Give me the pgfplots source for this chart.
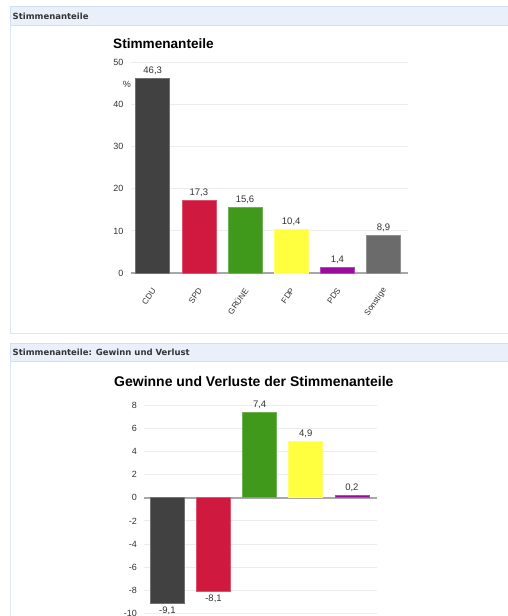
\documentclass[border=0pt]{standalone}
\usepackage{pgfplots}
\pgfplotsset{compat=1.18}
\usepackage{fontspec}
\setmainfont{Liberation Sans}
\newfontfamily\hdrfont{DejaVu Sans}
\definecolor{cdu}{HTML}{414141}
\definecolor{spd}{HTML}{D0193F}
\definecolor{gruene}{HTML}{40991A}
\definecolor{fdp}{HTML}{FFFF40}
\definecolor{pds}{HTML}{9A0C9E}
\definecolor{sonst}{HTML}{6B6B6B}
\definecolor{hdrbg}{HTML}{EAF0FA}
\definecolor{hdrline}{HTML}{D3E0F3}
\definecolor{bodyline}{HTML}{DCE6F5}
\definecolor{hdrtext}{HTML}{333333}
\definecolor{tickc}{HTML}{333333}
\definecolor{gridc}{HTML}{ECECEC}
\definecolor{zeroc}{HTML}{A8A8A8}
\pgfplotsset{
  wahl/.style={
    scale only axis, ybar, bar width=34pt, clip=false,
    axis line style={draw=none},
    tick style={draw=none},
    major tick length=0pt,
    ymajorgrids, grid style={draw=gridc, line width=0.9pt},
    /pgf/number format/assume math mode=true,
    yticklabel style={font=\fontsize{9}{9}\selectfont, text=tickc, xshift=-4pt},
    xticklabel style={xshift=2pt, yshift=-15pt, rotate=55, anchor=east, font=\fontsize{8.2}{8.2}\selectfont, text=tickc, inner sep=1pt},
    xtick={0,...,5},
    nodes near coords,
    nodes near coords style={font=\fontsize{9.5}{9.5}\selectfont, text=tickc, /pgf/number format/.cd, fixed, fixed zerofill, precision=1, use comma, assume math mode=true},
    extra y ticks={0}, extra y tick labels={},
    extra y tick style={grid style={draw=zeroc, line width=1.8pt}},
  },
  b/.style={fill=#1, draw=#1!75!white, line width=0.6pt, bar shift=0pt},
}
\begin{document}
\begin{tikzpicture}[x=1pt,y=1pt]
\useasboundingbox (0,0) rectangle (508,616);
\clip (0,0) rectangle (508,616);
\fill[white] (0,0) rectangle (508,616);
% ---- panel 1 frame
\draw[draw=bodyline, line width=1pt] (10.5,591) -- (10.5,282.5) -- (515,282.5);
\draw[draw=hdrline, fill=hdrbg, line width=0.8pt] (10.5,591) rectangle (515,609.3);
\node[anchor=west, font=\hdrfont\bfseries\fontsize{8.5}{9}\selectfont, text=hdrtext, inner sep=0pt] at (12.5,600) {Stimmenanteile};
\node[anchor=base west, font=\bfseries\fontsize{13.6}{14}\selectfont, inner sep=0pt] at (113,567) {Stimmenanteile};
% ---- panel 2 frame
\draw[draw=bodyline, line width=1pt] (10.5,254.3) -- (10.5,-2);
\draw[draw=hdrline, fill=hdrbg, line width=0.8pt] (10.5,254.3) rectangle (515,272.7);
\node[anchor=west, font=\hdrfont\bfseries\fontsize{8.5}{9}\selectfont, text=hdrtext, inner sep=0pt] at (12.5,263.5) {Stimmenanteile: Gewinn und Verlust};
\node[anchor=base west, font=\bfseries\fontsize{14}{14}\selectfont, inner sep=0pt] at (114,229.3) {Gewinne und Verluste der Stimmenanteile};
% ---- chart 1
\begin{axis}[wahl, at={(131pt,343pt)}, anchor=south west,
  width=277pt, height=210.3pt,
  xmin=-0.47, xmax=5.53, ymin=0, ymax=50,
  ytick={0,10,20,30,40,50},
  xticklabels={CDU,SPD,GRÜNE,FDP,PDS,Sonstige}]
\addplot[b=cdu] coordinates {(0,46.3)};
\addplot[b=spd] coordinates {(1,17.3)};
\addplot[b=gruene] coordinates {(2,15.6)};
\addplot[b=fdp] coordinates {(3,10.4)};
\addplot[b=pds] coordinates {(4,1.4)};
\addplot[b=sonst] coordinates {(5,8.9)};
\node[anchor=east, font=\fontsize{9}{9}\selectfont, text=tickc, inner sep=0pt] at (rel axis cs:0,0.895) {\%\hspace{7pt}};
\end{axis}
% ---- chart 2
\begin{axis}[wahl, at={(144.3pt,2.4pt)}, anchor=south west,
  width=233pt, height=208.6pt,
  xmin=-0.5, xmax=4.55, ymin=-10, ymax=8,
  ytick={-10,-8,-6,-4,-2,0,2,4,6,8},
  xtick={0,...,4},
  xticklabels={}]
\addplot[b=cdu] coordinates {(0,-9.1)};
\addplot[b=spd] coordinates {(1,-8.1)};
\addplot[b=gruene] coordinates {(2,7.4)};
\addplot[b=fdp] coordinates {(3,4.9)};
\addplot[b=pds] coordinates {(4,0.2)};
\end{axis}
\end{tikzpicture}
\end{document}
